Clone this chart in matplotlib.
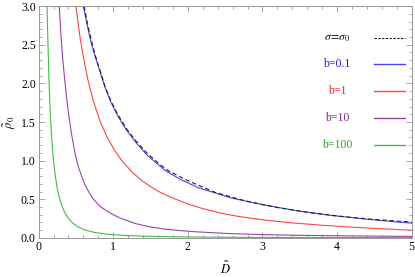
import matplotlib
matplotlib.use("Agg")
import matplotlib.pyplot as plt
from matplotlib.ticker import MultipleLocator

plt.rcParams['font.family'] = ['Liberation Serif', 'DejaVu Serif']
plt.rcParams['mathtext.fontset'] = 'stix'

# values
D_s0 = [0.61, 0.66, 0.71, 0.76, 0.83, 0.89, 0.97, 1.06, 1.17, 1.30, 1.45, 1.62, 1.74, 1.97, 2.17,
        2.365, 2.767, 3.19, 3.615, 4.02, 4.44, 4.87, 5.00]
rho_s0 = [3.00, 2.75, 2.55, 2.36, 2.15, 1.96, 1.77, 1.60, 1.425, 1.26, 1.10, 0.955, 0.87, 0.755, 0.67,
          0.59, 0.48, 0.395, 0.33, 0.283, 0.243, 0.214, 0.207]

D_b01 = [0.60, 0.65, 0.70, 0.76, 0.83, 0.89, 0.97, 1.06, 1.17, 1.30, 1.45, 1.62, 1.694, 1.90, 2.14,
         2.59, 3.03, 3.48, 3.93, 4.375, 4.82, 5.00]
rho_b01 = [3.00, 2.76, 2.54, 2.34, 2.13, 1.95, 1.755, 1.58, 1.405, 1.24, 1.075, 0.935, 0.874, 0.758, 0.65,
           0.515, 0.425, 0.35, 0.29, 0.245, 0.205, 0.192]

D_b1 = [0.50, 0.55, 0.60, 0.66, 0.73, 0.82, 0.92, 1.02, 1.115, 1.25, 1.38, 1.50, 1.63, 1.80, 2.00,
        2.20, 2.45, 2.70, 3.00, 3.37, 3.82, 4.40, 5.00]
rho_b1 = [3.00, 2.63, 2.34, 2.05, 1.785, 1.52, 1.30, 1.13, 1.00, 0.855, 0.745, 0.665, 0.59, 0.515, 0.44,
          0.38, 0.32, 0.275, 0.235, 0.197, 0.163, 0.128, 0.10]

D_b10 = [0.277, 0.30, 0.325, 0.35, 0.375, 0.40, 0.44, 0.49, 0.53, 0.58, 0.62, 0.67, 0.72, 0.80, 0.85,
         0.98, 1.10, 1.30, 1.52, 1.77, 2.10, 2.52, 3.00, 3.50, 4.20, 5.00]
rho_b10 = [3.00, 2.62, 2.30, 2.05, 1.82, 1.62, 1.35, 1.09, 0.93, 0.79, 0.69, 0.60, 0.52, 0.43, 0.39,
           0.31, 0.255, 0.185, 0.138, 0.105, 0.08, 0.058, 0.043, 0.034, 0.026, 0.02]

D_b100 = [0.113, 0.12, 0.13, 0.14, 0.15, 0.165, 0.18, 0.20, 0.22, 0.245, 0.27, 0.30, 0.34, 0.39, 0.45,
          0.53, 0.63, 0.75, 0.90, 1.10, 1.35, 1.75, 2.30, 3.00, 4.00, 5.00]
rho_b100 = [3.00, 2.72, 2.36, 2.03, 1.76, 1.46, 1.24, 1.00, 0.83, 0.67, 0.55, 0.45, 0.35, 0.265, 0.198,
            0.143, 0.10, 0.071, 0.05, 0.035, 0.025, 0.016, 0.010, 0.007, 0.005, 0.004]

labels = [r'$\sigma\!=\!\sigma_0$', 'b=0.1', 'b=1', 'b=10', 'b=100']
line_colors = ['#222222', '#4444ff', '#ff4444', '#9944aa', '#44bb44']
text_colors = ['#111111', '#2222ee', '#ee2222', '#882288', '#22aa22']

fig = plt.figure(figsize=(4.15, 2.77), dpi=100)
ax = fig.add_axes([0.093, 0.141, 0.899, 0.837])

ax.plot(D_b100, rho_b100, color=line_colors[4], lw=0.8)
ax.plot(D_b10, rho_b10, color=line_colors[3], lw=0.8)
ax.plot(D_b1, rho_b1, color=line_colors[2], lw=0.8)
ax.plot(D_b01, rho_b01, color=line_colors[1], lw=0.8)
ax.plot(D_s0, rho_s0, color=line_colors[0], lw=0.8, dashes=(4, 2.5))

ax.set_xlim(0, 5)
ax.set_ylim(0, 3)
ax.xaxis.set_major_locator(MultipleLocator(1))
ax.xaxis.set_minor_locator(MultipleLocator(0.2))
ax.yaxis.set_major_locator(MultipleLocator(0.5))
ax.yaxis.set_minor_locator(MultipleLocator(0.1))
ax.yaxis.set_major_formatter(plt.FormatStrFormatter('%.1f'))

for s in ax.spines.values():
    s.set_color('#999999')
    s.set_linewidth(0.7)
ax.tick_params(which='both', direction='in', top=True, right=True, color='#999999', width=0.6, labelsize=8.5, pad=2)
ax.tick_params(which='major', length=4)
ax.tick_params(which='minor', length=2)

ax.set_xlabel(r'$\tilde{D}$', fontsize=9, labelpad=6)
ax.set_ylabel(r'$\tilde{\rho}_0$', fontsize=9, labelpad=2)

# hand-made legend: centred coloured text, short line on the right
row_y = [0.862, 0.75, 0.634, 0.517, 0.40]
for i in range(len(labels)):
    ax.text(0.80, row_y[i], labels[i], color=text_colors[i], fontsize=8.5,
            ha='center', va='center', transform=ax.transAxes)
    if i == 0:
        ax.plot([0.899, 0.982], [row_y[i], row_y[i]], color=line_colors[i], lw=0.8,
                dashes=(2.2, 1.2), transform=ax.transAxes)
    else:
        ax.plot([0.899, 0.982], [row_y[i], row_y[i]], color=line_colors[i], lw=1.0,
                transform=ax.transAxes)

plt.savefig('out.png', dpi=100)
